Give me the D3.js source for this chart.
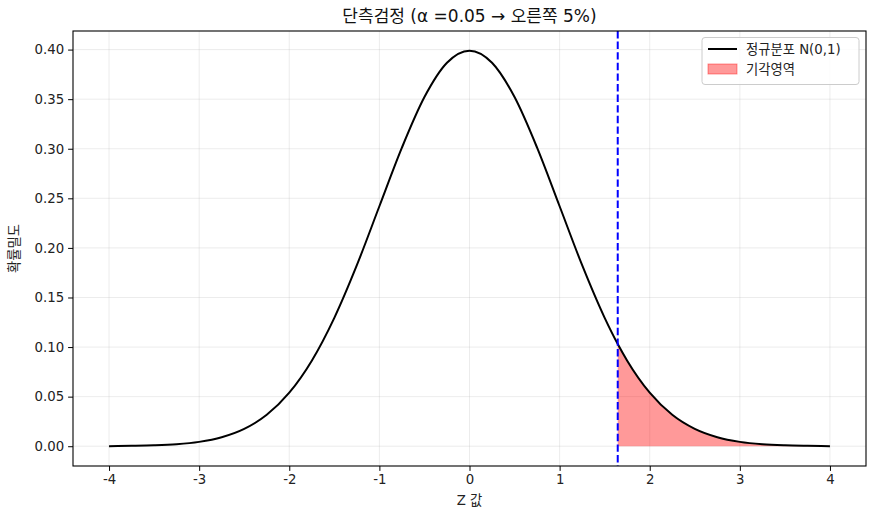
<!DOCTYPE html>
<html><head><meta charset="utf-8">
<script src="https://cdn.jsdelivr.net/npm/d3@7"></script>
<style>body{margin:0;background:#fff}svg{display:block}text{font-family:"DejaVu Sans","Noto Sans CJK KR",sans-serif}</style>
</head><body>
<svg id="c" width="876" height="519"></svg>
<script>
// Z values and density
const zValues = [-4,-3.75,-3.5,-3.25,-3,-2.75,-2.5,-2.25,-2,-1.75,-1.5,-1.25,-1,-0.75,-0.5,-0.25,0,0.25,0.5,0.75,1,1.25,1.5,1.645,1.75,2,2.25,2.5,2.75,3,3.25,3.5,3.75,4];
const density = [0.0001,0.0004,0.0009,0.0020,0.0044,0.0091,0.0175,0.0317,0.0540,0.0863,0.1295,0.1826,0.2420,0.3011,0.3521,0.3867,0.3989,0.3867,0.3521,0.3011,0.2420,0.1826,0.1295,0.1031,0.0863,0.0540,0.0317,0.0175,0.0091,0.0044,0.0020,0.0009,0.0004,0.0001];
const criticalZ = 1.645;
const xTicks = [-4,-3,-2,-1,0,1,2,3,4];
const yTicks = [0,0.05,0.10,0.15,0.20,0.25,0.30,0.35,0.40];
const titleText = "단측검정 (α =0.05 → 오른쪽 5%)";
const xLabel = "Z 값";
const yLabel = "확률밀도";
const legendLabels = ["정규분포 N(0,1)", "기각영역"];

const data = zValues.map((z,i)=>({z, d: density[i]}));
const L=73, R=866, T=31, B=466;
const svg = d3.select("#c");
const x = d3.scaleLinear().domain([-4.4,4.4]).range([L,R]);
const y = d3.scaleLinear().domain([-0.01994,0.41874]).range([B,T]);

// grid
const g = svg.append("g");
g.selectAll(".gx").data(xTicks).join("line").attr("x1",d=>x(d)).attr("x2",d=>x(d)).attr("y1",T).attr("y2",B)
  .attr("stroke","#b0b0b0").attr("stroke-opacity",0.3).attr("stroke-width",0.8);
g.selectAll(".gy").data(yTicks).join("line").attr("y1",d=>y(d)).attr("y2",d=>y(d)).attr("x1",L).attr("x2",R)
  .attr("stroke","#b0b0b0").attr("stroke-opacity",0.3).attr("stroke-width",0.8);

// fill
const tail = data.filter(p=>p.z>=criticalZ);
svg.append("path").datum(tail)
  .attr("d", d3.area().x(p=>x(p.z)).y0(y(0)).y1(p=>y(p.d)).curve(d3.curveMonotoneX))
  .attr("fill","red").attr("fill-opacity",0.4);

// curve
svg.append("path").datum(data)
  .attr("d", d3.line().x(p=>x(p.z)).y(p=>y(p.d)).curve(d3.curveMonotoneX))
  .attr("fill","none").attr("stroke","#000").attr("stroke-width",2);

// critical line
svg.append("line").attr("x1",x(criticalZ)).attr("x2",x(criticalZ)).attr("y1",T).attr("y2",B)
  .attr("stroke","blue").attr("stroke-width",2).attr("stroke-dasharray","7.4,3.2");

// axes
const xa = svg.append("g").attr("transform",`translate(0,${B})`)
  .call(d3.axisBottom(x).tickValues(xTicks).tickSize(4.9).tickPadding(4).tickFormat(d=>String(d)));
const ya = svg.append("g").attr("transform",`translate(${L},0)`)
  .call(d3.axisLeft(y).tickValues(yTicks).tickSize(4.9).tickPadding(4).tickFormat(d=>d.toFixed(2)));
[xa,ya].forEach(a=>{a.select(".domain").remove(); a.selectAll("text").attr("font-size",13.3).attr("fill","#222");
  a.selectAll("line").attr("stroke","#000").attr("stroke-width",1);});
// frame
svg.append("rect").attr("x",L).attr("y",T).attr("width",R-L).attr("height",B-T)
  .attr("fill","none").attr("stroke","#000").attr("stroke-width",1.1);

// labels
svg.append("text").attr("x",(L+R)/2).attr("y",22).attr("text-anchor","middle").attr("font-size",17).attr("fill","#111").text(titleText);
svg.append("text").attr("x",(L+R)/2).attr("y",505).attr("text-anchor","middle").attr("font-size",13.3).attr("fill","#222").text(xLabel);
svg.append("text").attr("transform",`translate(19,${(T+B)/2}) rotate(-90)`).attr("text-anchor","middle").attr("font-size",13.3).attr("fill","#222").text(yLabel);

// legend
const lg = svg.append("g");
lg.append("rect").attr("x",702).attr("y",37.5).attr("width",157).attr("height",47).attr("rx",3)
  .attr("fill","#fff").attr("fill-opacity",0.8).attr("stroke","#ccc").attr("stroke-width",1);
lg.append("line").attr("x1",708).attr("x2",737).attr("y1",49).attr("y2",49).attr("stroke","#000").attr("stroke-width",2);
lg.append("rect").attr("x",708).attr("y",64).attr("width",29).attr("height",10)
  .attr("fill","red").attr("fill-opacity",0.4).attr("stroke","red").attr("stroke-opacity",0.4);
lg.append("text").attr("x",746).attr("y",54).attr("font-size",13.3).attr("fill","#222").text(legendLabels[0]);
lg.append("text").attr("x",746).attr("y",74).attr("font-size",13.3).attr("fill","#222").text(legendLabels[1]);
</script>
</body></html>
